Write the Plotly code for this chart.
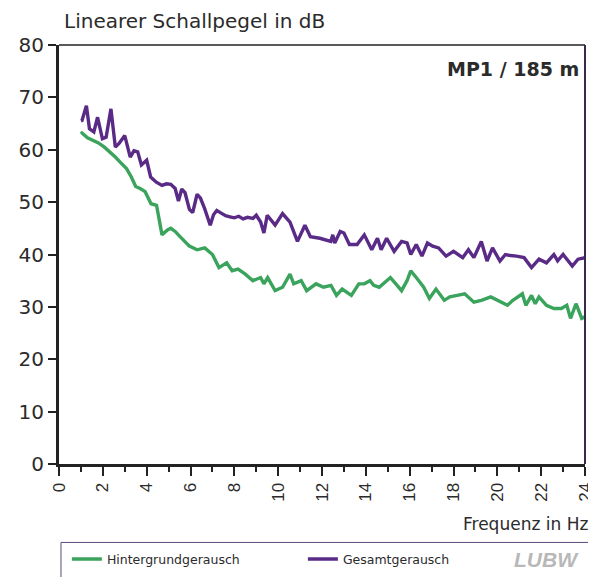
import plotly.graph_objects as go

# Gesamtgeräusch (purple)
freq_total = [1.0, 1.05, 1.25, 1.39, 1.59, 1.76, 1.98, 2.15, 2.37, 2.57, 2.74, 3.0, 3.25, 3.42,
              3.59, 3.76, 4.0, 4.18, 4.44, 4.7, 4.9, 5.1, 5.3, 5.45, 5.6, 5.75, 5.95, 6.1, 6.3,
              6.45, 6.65, 6.9, 7.05, 7.2, 7.4, 7.6, 7.8, 8.0, 8.2, 8.4, 8.6, 8.85, 9.0, 9.2,
              9.35, 9.5, 9.86, 10.2, 10.54, 10.88, 11.22, 11.47, 11.9, 12.4, 12.49, 12.58,
              12.83, 13.0, 13.25, 13.6, 13.93, 14.27, 14.53, 14.7, 14.95, 15.29, 15.63, 15.88,
              16.05, 16.3, 16.56, 16.81, 17.05, 17.32, 17.66, 18.0, 18.42, 18.68, 18.93, 19.27,
              19.53, 19.78, 20.12, 20.37, 20.6, 20.88, 21.22, 21.56, 21.9, 22.24, 22.58, 22.75,
              23.0, 23.25, 23.42, 23.68, 24.0]
level_total = [65.5, 65.6, 68.4, 64.0, 63.4, 66.2, 62.1, 62.4, 67.8, 60.5, 61.2, 62.7, 58.6, 59.8,
               59.6, 57.1, 58.0, 54.8, 53.8, 53.2, 53.5, 53.4, 52.6, 50.2, 52.5, 51.8, 48.6, 48.0, 51.5,
               50.8, 48.7, 45.6, 47.6, 48.4, 47.9, 47.4, 47.2, 47.0, 47.3, 46.8, 47.1, 46.9, 47.5, 46.2,
               44.1, 47.5, 45.6, 47.8, 46.2, 42.5, 45.6, 43.4, 43.1, 42.5, 43.75, 42.2,
               44.4, 44.1, 41.9, 41.9, 43.75, 40.9, 43.1, 40.9, 43.1, 40.6, 42.5, 42.2,
               40.0, 41.9, 39.7, 42.2, 41.6, 41.25, 39.7, 40.6, 39.4, 40.9, 39.4, 42.5,
               38.75, 41.25, 38.75, 40.0, 39.8, 39.7, 39.4, 37.5, 39.1, 38.4, 40.0, 38.8,
               40.0, 38.8, 37.8, 39.1, 39.4]

# Hintergrundgeräusch (green)
freq_background = [1.0, 1.05, 1.3, 1.56, 1.8, 2.07, 2.3, 2.57, 2.8, 3.08, 3.3, 3.5, 3.7, 3.93,
                   4.2, 4.45, 4.7, 4.95, 5.1, 5.3, 5.5, 5.8, 5.95, 6.3, 6.65, 7.0, 7.3, 7.65,
                   7.9, 8.17, 8.5, 8.85, 9.2, 9.35, 9.52, 9.86, 10.2, 10.54, 10.71, 11.05, 11.3,
                   11.73, 12.07, 12.41, 12.66, 12.92, 13.34, 13.68, 13.93, 14.19, 14.36, 14.61,
                   15.12, 15.37, 15.63, 15.88, 16.05, 16.3, 16.64, 16.9, 17.2, 17.58, 17.83,
                   18.17, 18.51, 18.93, 19.27, 19.7, 20.03, 20.46, 20.71, 21.14, 21.3, 21.56,
                   21.73, 21.9, 22.24, 22.58, 22.92, 23.17, 23.34, 23.59, 23.85, 24.0]
level_background = [63.0, 63.2, 62.3, 61.8, 61.3, 60.5, 59.7, 58.6, 57.6, 56.4, 54.8, 53.0, 52.6, 52.0,
                    49.7, 49.4, 43.75, 44.7, 45.0, 44.4, 43.5, 42.2, 41.6, 40.9, 41.25, 40.0, 37.5, 38.4,
                    36.9, 37.2, 36.25, 35.0, 35.6, 34.4, 35.6, 33.1, 33.75, 36.25, 34.4, 35.0, 33.1,
                    34.4, 33.75, 34.1, 32.2, 33.4, 32.2, 34.4, 34.4, 35.0, 34.1, 33.75,
                    35.6, 34.4, 33.1, 35.0, 36.9, 35.6, 33.75, 31.6, 33.4, 31.25, 31.9,
                    32.2, 32.5, 30.9, 31.25, 31.9, 31.25, 30.3, 31.25, 32.5, 30.3, 32.2,
                    30.6, 31.9, 30.3, 29.7, 29.7, 30.3, 27.8, 30.6, 27.8, 28.1]

x_ticks = list(range(0, 25, 2))
y_ticks = list(range(0, 81, 10))

GREEN = '#3aa35c'
PURPLE = '#5a2a87'
TEXT = '#2b2b2b'
WIDE = 'DejaVu Sans, Verdana, sans-serif'
NARROW = 'Liberation Sans, Arial, sans-serif'

# page body offset (8px) and the slight shrink seen in the screenshot
OFF = 8
S = 0.986


def f(v):
    # target pixel in the picture -> pixel in the figure
    return v / S - OFF


W, H = 597, 577
L, T = f(52), f(44)
R = W - f(586)
B = H - f(466)
pw, ph = W - L - R, H - T - B


def px(x):
    return (f(x) - L) / pw


def py(y):
    return (H - B - f(y)) / ph


fig = go.Figure()
fig.add_trace(go.Scatter(x=freq_background, y=level_background, mode='lines',
                         name='Hintergrundgerausch', line=dict(color=GREEN, width=3.4)))
fig.add_trace(go.Scatter(x=freq_total, y=level_total, mode='lines',
                         name='Gesamtgerausch', line=dict(color=PURPLE, width=3.4)))

fig.update_layout(
    width=W, height=H,
    margin=dict(l=L, r=R, t=T, b=B),
    paper_bgcolor='white', plot_bgcolor='white',
    font=dict(family=WIDE, color=TEXT),
    showlegend=True,
    legend=dict(orientation='h', x=px(60), y=py(562), xanchor='left', yanchor='middle',
                entrywidth=191, entrywidthmode='pixels',
                font=dict(family=WIDE, size=12.5, color=TEXT), bgcolor='rgba(0,0,0,0)'),
    xaxis=dict(range=[0, 24], tickvals=x_ticks, ticktext=[str(v) for v in x_ticks],
               tickangle=-90, ticks='outside', ticklen=9, tickwidth=2, tickcolor='#222',
               minor=dict(dtick=1, ticks='outside', ticklen=5, tickwidth=2, tickcolor='#222'),
               showline=True, linecolor='#222', linewidth=3, showgrid=False, zeroline=False,
               ticklabeloverflow='allow',
               tickfont=dict(family=NARROW, size=17, color=TEXT)),
    yaxis=dict(range=[0, 80], tickvals=y_ticks, ticks='outside', ticklen=8, tickwidth=2,
               tickcolor='#222', showline=True, linecolor='#222', linewidth=3,
               showgrid=False, zeroline=False, tickfont=dict(family=WIDE, size=20, color=TEXT)),
    shapes=[
        # top / right frame
        dict(type='line', xref='paper', yref='paper', x0=0, x1=1, y0=1, y1=1,
             line=dict(color='#222', width=1.5)),
        dict(type='line', xref='paper', yref='paper', x0=1, x1=1, y0=0, y1=1,
             line=dict(color='#3a2a4a', width=2)),
        # legend box
        dict(type='rect', xref='paper', yref='paper', x0=px(54), x1=px(596), y0=py(545), y1=py(600),
             line=dict(color='#5a4a7a', width=1)),
    ],
    annotations=[
        dict(text='Linearer Schallpegel in dB', xref='paper', yref='paper', x=px(55), y=py(20),
             xanchor='left', yanchor='middle', showarrow=False,
             font=dict(family=WIDE, size=20, color=TEXT)),
        dict(text='<b>MP1 / 185 m</b>', xref='paper', yref='paper', x=px(582), y=py(68),
             xanchor='right', yanchor='middle', showarrow=False,
             font=dict(family=WIDE, size=19, color=TEXT)),
        dict(text='Frequenz in Hz', xref='paper', yref='paper', x=px(591), y=py(526),
             xanchor='right', yanchor='middle', showarrow=False,
             font=dict(family=WIDE, size=17, color=TEXT)),
        dict(text='<b><i>LUBW</i></b>', xref='paper', yref='paper', x=px(582), y=py(562),
             xanchor='right', yanchor='middle', showarrow=False,
             font=dict(family=NARROW, size=21, color='#b8b8b8')),
    ],
)

fig.write_html("out.html")
